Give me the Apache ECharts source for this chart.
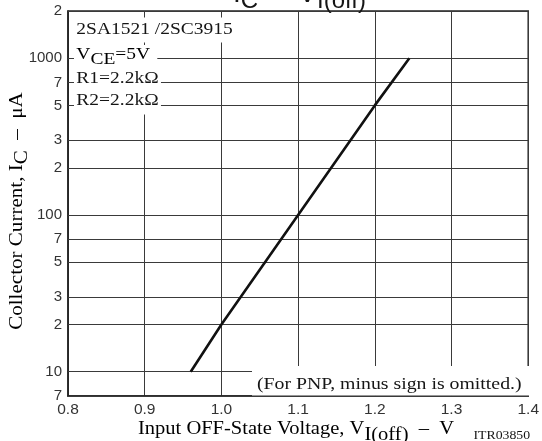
<!DOCTYPE html>
<html><head><meta charset="utf-8">
<script src="https://cdn.jsdelivr.net/npm/echarts@6/dist/echarts.min.js"></script>
<style>html,body{margin:0;padding:0;background:#fff}#c{width:542px;height:441px}</style>
</head><body><div id="c"></div>
<script>
// ---- data ----
const curveVoltage = [0.96, 1.0, 1.1, 1.2, 1.245];
const curveCurrent = [10, 20, 100, 500, 1000];
const yTickValues = [7, 10, 20, 30, 50, 70, 100, 200, 300, 500, 700, 1000, 2000];
const yTickLabels = ['7', '10', '2', '3', '5', '7', '100', '2', '3', '5', '7', '1000', '2'];
const xMin = 0.8, xMax = 1.4, xStep = 0.1;
const yMin = 7, yMax = 2000;

const SERIF = 'Liberation Serif';
const SANS = 'Liberation Sans';
const INK = '#151515';
const chart = echarts.init(document.getElementById('c'), null, {renderer: 'canvas'});

function serifRich(size, subShift) {
  return {
    a: {fontFamily: SERIF, fontSize: size, color: INK, padding: [0, 0, subShift, 0]},
    s: {fontFamily: SERIF, fontSize: size, color: INK, padding: [subShift, 0, 0, 0]}
  };
}
function sansText(x, y, txt, size) {
  return {type: 'text', x: x, y: y, z: 100, silent: true, style: {
    text: txt, font: size + 'px ' + SANS, fill: INK, textVerticalAlign: 'middle'}};
}

const option = {
  animation: false,
  backgroundColor: '#fff',
  grid: {left: 68, right: 10, top: 11, bottom: 45, show: true, borderColor: '#222', borderWidth: 1.5},
  xAxis: {
    type: 'value', min: xMin, max: xMax, interval: xStep,
    axisLine: {show: true, lineStyle: {color: '#222', width: 1.5}},
    axisTick: {show: false},
    axisLabel: {formatter: v => v.toFixed(1), color: '#333', fontSize: 15.5, fontFamily: SANS, margin: 6},
    splitLine: {show: true, lineStyle: {color: '#3a3a3a', width: 1}}
  },
  yAxis: {
    type: 'log', logBase: 10, min: yMin, max: yMax,
    axisLine: {show: true, lineStyle: {color: '#222', width: 1.5}},
    axisTick: {show: false},
    axisLabel: {show: false},
    splitLine: {show: false}
  },
  series: [
    {
      type: 'line', data: [], silent: true, z: 1,
      markLine: {
        silent: true, symbol: 'none', animation: false,
        lineStyle: {color: '#3a3a3a', width: 1, type: 'solid'},
        label: {show: true, position: 'start', distance: 6, color: '#333', fontSize: 15, fontFamily: SANS},
        data: yTickValues.map((v, i) => ({yAxis: v, label: {formatter: yTickLabels[i]}}))
      }
    },
    {
      type: 'line', z: 5, symbol: 'none', silent: true,
      data: curveVoltage.map((x, i) => [x, curveCurrent[i]]),
      lineStyle: {color: '#111', width: 2.6}
    }
  ],
  graphic: [
    // title "IC – VI(off)" (mostly above the canvas)
    sansText(233, -5.7, 'I', 28),
    sansText(240.8, 1.6, 'C', 24),
    sansText(270, -5.7, '–', 28),
    sansText(298, -5.7, 'V', 28),
    sansText(317, 1.6, 'I(off)', 24),
    // device notes
    {type: 'text', x: 74, y: 30, z: 100, scaleX: 1.18, silent: true, style: {
      text: '2SA1521 /2SC3915', font: '16.5px ' + SERIF, fill: INK, textVerticalAlign: 'middle',
      backgroundColor: '#fff', padding: [4, 2, 4, 2]
    }},
    {type: 'text', x: 74, y: 57, z: 100, scaleX: 1.18, silent: true, style: {
      text: '{a|V}{s|CE}{a|=5V }', textVerticalAlign: 'middle', rich: serifRich(16.5, 5),
      backgroundColor: '#fff', padding: [1, 2, 1, 2]
    }},
    {type: 'text', x: 74, y: 79, z: 100, scaleX: 1.18, silent: true, style: {
      text: 'R1=2.2kΩ', font: '16.5px ' + SERIF, fill: INK, textVerticalAlign: 'middle',
      backgroundColor: '#fff', padding: [4, 2, 4, 2]
    }},
    {type: 'text', x: 74, y: 101, z: 100, scaleX: 1.18, silent: true, style: {
      text: 'R2=2.2kΩ', font: '16.5px ' + SERIF, fill: INK, textVerticalAlign: 'middle',
      backgroundColor: '#fff', padding: [5, 2, 5, 2]
    }},
    // PNP note box
    {type: 'rect', z: 99, silent: true, shape: {x: 252, y: 366, width: 279, height: 29.5}, style: {fill: '#fff'}},
    {type: 'text', x: 257, y: 385, z: 100, scaleX: 1.2, silent: true, style: {
      text: '(For PNP, minus sign is omitted.)', font: '16.5px ' + SERIF, fill: INK, textVerticalAlign: 'middle'
    }},
    // axis titles
    {type: 'text', x: 296, y: 432, z: 100, scaleX: 1.14, silent: true, style: {
      text: '{a|Input OFF-State Voltage, V}{s|I(off)}{a|  –  V}', textAlign: 'center', textVerticalAlign: 'middle',
      rich: serifRich(18, 6)
    }},
    {type: 'text', x: 20, y: 211, z: 100, rotation: Math.PI / 2, scaleX: 1.17, silent: true, style: {
      text: '{a|Collector Current, I}{s|C}{a|  –  μA}', textAlign: 'center', textVerticalAlign: 'middle',
      rich: serifRich(18, 5)
    }},
    {type: 'text', x: 530, y: 436, z: 100, scaleX: 1.1, silent: true, style: {
      text: 'ITR03850', font: '12.5px ' + SERIF, fill: INK, textAlign: 'right', textVerticalAlign: 'middle'
    }}
  ]
};
chart.setOption(option);
</script></body></html>
